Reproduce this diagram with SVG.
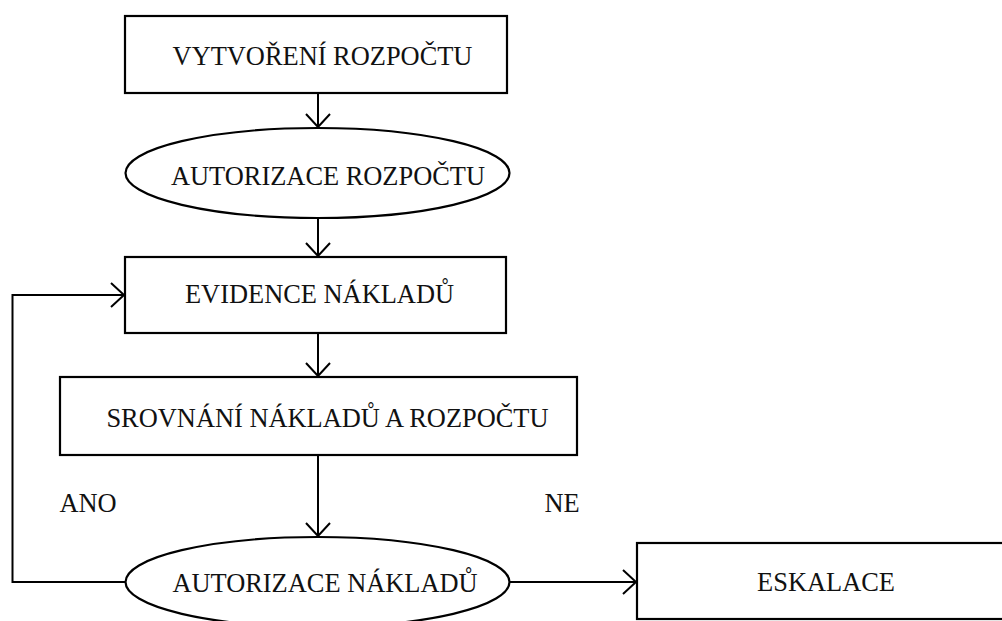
<svg xmlns="http://www.w3.org/2000/svg" width="1002" height="621" viewBox="0 0 1002 621">
  <style>
    .box { fill: #ffffff; stroke: #000000; stroke-width: 2.2; }
    .lbl { font-family: "Liberation Serif", "Times New Roman", serif; font-size: 28px; fill: #111111; text-anchor: middle; }
    .edge { fill: none; stroke: #000000; stroke-width: 2; }
  </style>
  <defs>
    <marker id="chevron" markerUnits="userSpaceOnUse" markerWidth="30" markerHeight="30" viewBox="-15 -15 30 30" refX="0" refY="0" orient="auto">
      <path d="M-13,-12 L0,0 L-13,12" fill="none" stroke="#000000" stroke-width="2"/>
    </marker>
  </defs>

  <rect width="1002" height="621" fill="#ffffff"/>

  <!-- connectors; labels use a slightly narrowed serif face -->
  <g id="connectors">
    <line class="edge" x1="318" y1="93" x2="318" y2="127" marker-end="url(#chevron)"/>
    <line class="edge" x1="318" y1="218" x2="318" y2="256" marker-end="url(#chevron)"/>
    <line class="edge" x1="318" y1="333" x2="318" y2="376" marker-end="url(#chevron)"/>
    <line class="edge" x1="318" y1="455" x2="318" y2="536" marker-end="url(#chevron)"/>
    <polyline class="edge" points="125.5,582 12.5,582 12.5,295 124,295" marker-end="url(#chevron)"/>
    <line class="edge" x1="509.5" y1="582" x2="636" y2="582" marker-end="url(#chevron)"/>
    <text class="lbl" transform="translate(88 512) scale(0.943 1)">ANO</text>
    <text class="lbl" transform="translate(562 512) scale(0.943 1)">NE</text>
  </g>

  <!-- nodes -->
  <g id="vytvoreni-rozpoctu">
    <rect class="box" x="125" y="16" width="382" height="77"/>
    <text class="lbl" transform="translate(322.5 65) scale(0.943 1)">VYTVOŘENÍ ROZPOČTU</text>
  </g>

  <g id="autorizace-rozpoctu">
    <ellipse class="box" cx="317.5" cy="173" rx="192" ry="45"/>
    <text class="lbl" transform="translate(328 185) scale(0.943 1)">AUTORIZACE ROZPOČTU</text>
  </g>

  <g id="evidence-nakladu">
    <rect class="box" x="125" y="257" width="381" height="76"/>
    <text class="lbl" transform="translate(319.5 303) scale(0.943 1)">EVIDENCE NÁKLADŮ</text>
  </g>

  <g id="srovnani">
    <rect class="box" x="60" y="377" width="517" height="78"/>
    <text class="lbl" transform="translate(327.5 427) scale(0.943 1)">SROVNÁNÍ NÁKLADŮ A ROZPOČTU</text>
  </g>

  <g id="autorizace-nakladu">
    <ellipse class="box" cx="317.5" cy="582" rx="192" ry="45"/>
    <text class="lbl" transform="translate(325 592) scale(0.943 1)">AUTORIZACE NÁKLADŮ</text>
  </g>

  <g id="eskalace">
    <rect class="box" x="637" y="543" width="380" height="76"/>
    <text class="lbl" transform="translate(826 591) scale(0.943 1)">ESKALACE</text>
  </g>
</svg>
